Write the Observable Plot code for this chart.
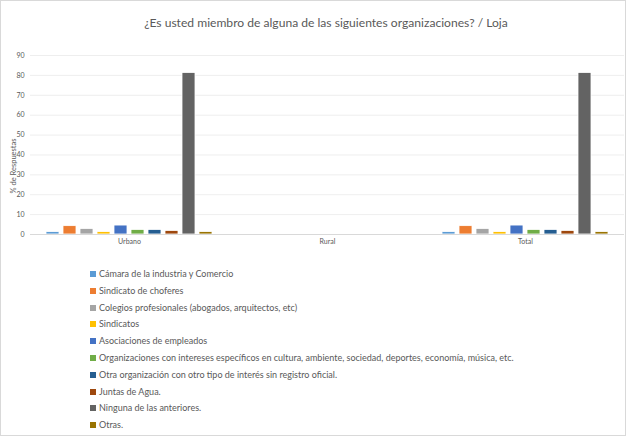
<!DOCTYPE html>
<html><head><meta charset="utf-8">
<script src="https://cdn.jsdelivr.net/npm/d3@7"></script>
<script src="https://cdn.jsdelivr.net/npm/@observablehq/plot@0.6"></script>
<style>
html,body{margin:0;padding:0;background:#fff;}
#wrap{position:relative;box-sizing:border-box;width:626px;height:436px;border:1px solid #d9d9d9;overflow:hidden;font-family:Lato,sans-serif;color:#595959;}
#title{position:absolute;left:13px;width:624px;top:14px;text-align:center;font-size:12.1px;}
#chart{position:absolute;left:0;top:44px;}
#legend{position:absolute;left:89px;top:265px;font-size:9px;}
#legend div{height:16.8px;line-height:16.8px;white-space:nowrap;}
#legend span.sw{display:inline-block;width:6px;height:6px;margin-right:3px;vertical-align:0px;}
</style></head>
<body><div id="wrap"><div id="title"></div><div id="chart"></div><div id="legend"></div></div>
<script>
const title = "¿Es usted miembro de alguna de las siguientes organizaciones? / Loja";
const categories = ["Urbano", "Rural", "Total"];
const series = [
  "Cámara de la industria y Comercio",
  "Sindicato de choferes",
  "Colegios profesionales (abogados, arquitectos, etc)",
  "Sindicatos",
  "Asociaciones de empleados",
  "Organizaciones con intereses específicos en cultura, ambiente, sociedad, deportes, economía, música, etc.",
  "Otra organización con otro tipo de interés sin registro oficial.",
  "Juntas de Agua.",
  "Ninguna de las anteriores.",
  "Otras."
];
const urbano = [1.2, 4.2, 2.8, 1.2, 4.5, 2.3, 2.3, 1.8, 81.2, 1.2];
const rural  = [0, 0, 0, 0, 0, 0, 0, 0, 0, 0];
const total  = [1.2, 4.2, 2.8, 1.2, 4.5, 2.3, 2.3, 1.8, 81.2, 1.2];
const colors = ["#5B9BD5", "#ED7D31", "#A5A5A5", "#FFC000", "#4472C4", "#70AD47", "#255E91", "#9E480E", "#636363", "#997300"];
const yTicks = [0, 10, 20, 30, 40, 50, 60, 70, 80, 90];
const yLabel = "% de Respuestas";

const byCat = {Urbano: urbano, Rural: rural, Total: total};
const data = [];
for (const c of categories) byCat[c].forEach((v, i) => data.push({cat: c, serie: series[i], value: v}));

document.getElementById("title").textContent = title;

const chart = Plot.plot({
  width: 624,
  height: 209,
  marginTop: 10,
  marginBottom: 20,
  marginLeft: 28,
  marginRight: 1,
  style: {fontFamily: "Lato, sans-serif", fontSize: "7px", color: "#595959", background: "transparent"},
  fx: {domain: categories, padding: 0, label: null},
  x: {domain: series, axis: null, paddingInner: 0.22, paddingOuter: 0.85},
  y: {domain: [0, 90]},
  color: {domain: series, range: colors},
  marks: [
    Plot.gridY(yTicks, {facetAnchor: null, stroke: "#595959", strokeOpacity: 0.1}),
    Plot.axisY(yTicks, {facetAnchor: "left", tickSize: 0, tickPadding: 6, label: null}),
    Plot.text([{cat: categories[0], t: yLabel}], {fx: "cat", text: "t", frameAnchor: "left", textAnchor: "middle", rotate: -90, dx: -17, dy: 21, fontSize: 7.5, fill: "#595959"}),
    Plot.axisFx({anchor: "bottom", tickSize: 0, tickPadding: 5, label: null}),
    Plot.barY(data, {fx: "cat", x: "serie", y: "value", fill: "serie", stroke: d => d.value > 0 ? "#ffffff" : "none", strokeWidth: 0.8}),
    Plot.ruleY([0], {stroke: "#d9d9d9"})
  ]
});
document.getElementById("chart").appendChild(chart);

const leg = document.getElementById("legend");
series.forEach((s, i) => {
  const d = document.createElement("div");
  const sw = document.createElement("span");
  sw.className = "sw"; sw.style.background = colors[i];
  d.appendChild(sw);
  d.appendChild(document.createTextNode(s));
  leg.appendChild(d);
});
</script></body></html>
